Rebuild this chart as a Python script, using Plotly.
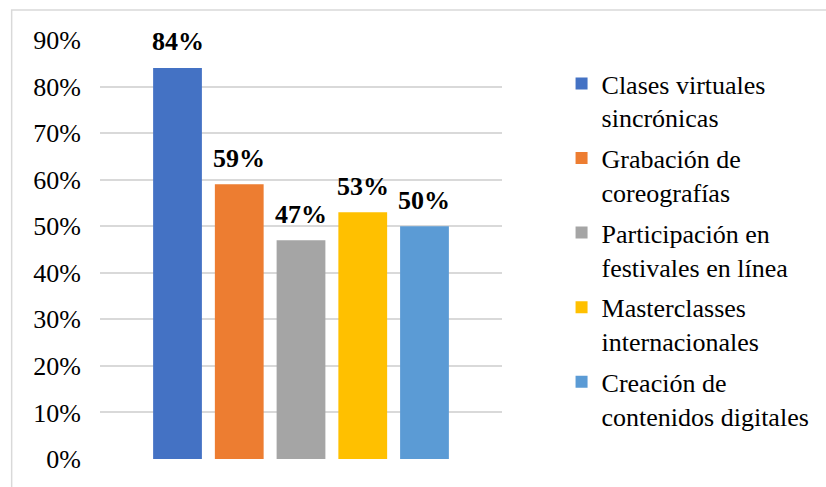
import plotly.graph_objects as go

series_names = [
    "Clases virtuales<br>sincrónicas",
    "Grabación de<br>coreografías",
    "Participación en<br>festivales en línea",
    "Masterclasses<br>internacionales",
    "Creación de<br>contenidos digitales",
]
values = [0.84, 0.59, 0.47, 0.53, 0.50]
colors = ["#4472C4", "#ED7D31", "#A5A5A5", "#FFC000", "#5B9BD5"]
category = [""]

FONT = "Liberation Serif, Times New Roman, serif"
BARGAP = 0.232
GROUPGAP = 0.21

fig = go.Figure()
n = len(values)
slot = (1 - BARGAP) / n
annotations = []
for i, (name, v, c) in enumerate(zip(series_names, values, colors)):
    fig.add_trace(go.Bar(
        x=category, y=[v], name=name, legendgroup=f"g{i}",
        marker=dict(color=c, line=dict(width=0)),
        hoverinfo="name+y",
    ))
    annotations.append(dict(
        xref="x", yref="y", x=(i - (n - 1) / 2) * slot, y=v,
        text=f"{v:.0%}", showarrow=False, yanchor="middle", yshift=26,
        font=dict(family=FONT, size=26, color="#000000", weight="bold"),
    ))

W, H = 826, 487
L, R, T, B = 100, 505, 40, 459
pw, ph = R - L, B - T

def px(x):
    return (x - L) / pw

def py(y):
    return (B - y) / ph

fig.update_layout(
    width=W, height=H,
    margin=dict(l=L, r=W - R, t=T, b=H - B),
    paper_bgcolor="white", plot_bgcolor="white",
    barmode="group", bargap=BARGAP, bargroupgap=GROUPGAP,
    font=dict(family=FONT, size=26, color="#000000"),
    showlegend=True,
    legend=dict(x=px(565), y=py(60), xanchor="left", yanchor="top",
                valign="top", font=dict(family=FONT, size=26, color="#000000"),
                bgcolor="rgba(0,0,0,0)", tracegroupgap=4),
    xaxis=dict(showticklabels=False, showgrid=False, zeroline=False, showline=False),
    yaxis=dict(range=[0, 0.9], dtick=0.1, tickformat=".0%", showgrid=True,
               gridcolor="#D9D9D9", gridwidth=1.5, zeroline=False, showline=False,
               ticks="", ticklabelstandoff=18,
               tickfont=dict(family=FONT, size=26, color="#000000")),
    annotations=annotations,
    shapes=[dict(type="rect", xref="paper", yref="paper",
                 x0=px(11), x1=px(840), y0=py(500), y1=py(10),
                 line=dict(color="#D9D9D9", width=1.5), fillcolor="rgba(0,0,0,0)",
                 layer="below")],
)

fig.write_html("out.html", config={"displayModeBar": False},
               post_script="document.body.style.margin='0';")
